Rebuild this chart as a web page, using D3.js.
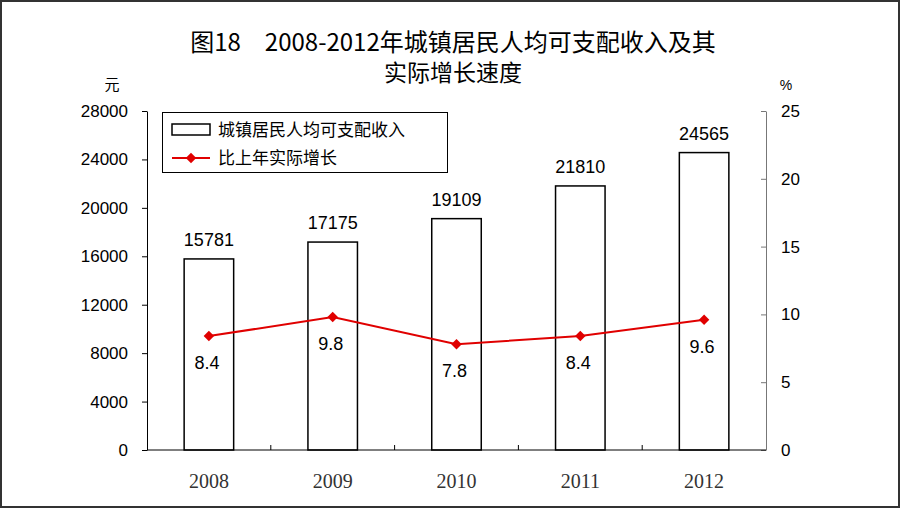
<!DOCTYPE html>
<meta charset="utf-8">
<style>
  body { margin: 0; background: #fff; }
  svg { display: block; }
</style>
<svg width="900" height="508"></svg>
<script src="https://d3js.org/d3.v7.min.js"></script>
<script>

var years = ["2008", "2009", "2010", "2011", "2012"];
var income = [15781, 17175, 19109, 21810, 24565];
var growth = [8.4, 9.8, 7.8, 8.4, 9.6];
var leftTicks = [0, 4000, 8000, 12000, 16000, 20000, 24000, 28000];
var rightTicks = [0, 5, 10, 15, 20, 25];

var svg = d3.select("svg"),
    plotLeft = 147, plotRight = 766, plotTop = 111, plotBottom = 450,
    cjk = "'Noto Sans CJK SC', sans-serif",
    latin = "'Liberation Sans', Arial, sans-serif";

// outer frame
svg.append("rect")
    .attr("x", 1).attr("y", 1)
    .attr("width", 898).attr("height", 506)
    .attr("fill", "#fff")
    .attr("stroke", "#333")
    .attr("stroke-width", 2);

// title
svg.append("text")
    .attr("x", 453).attr("y", 51)
    .attr("text-anchor", "middle")
    .attr("font-family", cjk)
    .attr("font-size", 24)
    .text("图18　2008-2012年城镇居民人均可支配收入及其");
svg.append("text")
    .attr("x", 453).attr("y", 81)
    .attr("text-anchor", "middle")
    .attr("font-family", cjk)
    .attr("font-size", 23)
    .text("实际增长速度");

var x = d3.scaleBand()
    .domain(years)
    .range([plotLeft, plotRight])
    .paddingInner(0.6)
    .paddingOuter(0.3);

var y = d3.scaleLinear().domain([0, 28000]).range([plotBottom, plotTop]);
var y2 = d3.scaleLinear().domain([0, 25]).range([plotBottom, plotTop]);

// left axis
var gl = svg.append("g")
    .attr("transform", "translate(" + plotLeft + ",0)")
    .call(d3.axisLeft(y).tickValues(leftTicks).tickFormat(d3.format("d"))
      .tickSize(5).tickPadding(14).tickSizeOuter(0));
gl.select(".domain").attr("stroke", "#000");
gl.selectAll("text").attr("font-family", latin).attr("font-size", 17).attr("fill", "#000");

// right axis
var gr = svg.append("g")
    .attr("transform", "translate(" + plotRight + ",0)")
    .call(d3.axisRight(y2).tickValues(rightTicks).tickSize(-5).tickPadding(15).tickSizeOuter(0));
gr.select(".domain").attr("stroke", "#777");
gr.selectAll(".tick line").attr("stroke", "#777");
gr.selectAll("text").attr("font-family", latin).attr("font-size", 17).attr("fill", "#000");

// unit labels
svg.append("text")
    .attr("x", 112).attr("y", 90)
    .attr("text-anchor", "middle")
    .attr("font-family", cjk)
    .attr("font-size", 15)
    .text("元");
svg.append("text")
    .attr("x", 786).attr("y", 90)
    .attr("text-anchor", "middle")
    .attr("font-family", latin)
    .attr("font-size", 14)
    .text("%");

// bars
svg.selectAll(".bar")
    .data(years)
  .enter().append("rect")
    .attr("class", "bar")
    .attr("x", function(d) { return x(d); })
    .attr("y", function(d, i) { return y(income[i]); })
    .attr("width", x.bandwidth())
    .attr("height", function(d, i) { return plotBottom - y(income[i]); })
    .attr("fill", "#fff")
    .attr("stroke", "#000")
    .attr("stroke-width", 1.5);

svg.selectAll(".barlabel")
    .data(years)
  .enter().append("text")
    .attr("class", "barlabel")
    .attr("x", function(d) { return x(d) + x.bandwidth() / 2; })
    .attr("y", function(d, i) { return y(income[i]) - 13; })
    .attr("text-anchor", "middle")
    .attr("font-family", latin)
    .attr("font-size", 18)
    .text(function(d, i) { return income[i]; });

// bottom axis
svg.append("line")
    .attr("x1", plotLeft).attr("x2", plotRight)
    .attr("y1", plotBottom).attr("y2", plotBottom)
    .attr("stroke", "#000");
svg.selectAll(".sep")
    .data(years.slice(1))
  .enter().append("line")
    .attr("class", "sep")
    .attr("x1", function(d) { return x(d) - x.step() * x.paddingInner() / 2; })
    .attr("x2", function(d) { return x(d) - x.step() * x.paddingInner() / 2; })
    .attr("y1", plotBottom).attr("y2", plotBottom - 5)
    .attr("stroke", "#000");
svg.selectAll(".year")
    .data(years)
  .enter().append("text")
    .attr("class", "year")
    .attr("x", function(d) { return x(d) + x.bandwidth() / 2; })
    .attr("y", 488)
    .attr("text-anchor", "middle")
    .attr("font-family", "'Liberation Serif', serif")
    .attr("font-size", 20)
    .attr("fill", "#333")
    .text(function(d) { return d; });

// growth line
var line = d3.line()
    .x(function(d, i) { return x(years[i]) + x.bandwidth() / 2; })
    .y(function(d) { return y2(d); });

svg.append("path")
    .datum(growth)
    .attr("fill", "none")
    .attr("stroke", "#e00000")
    .attr("stroke-width", 2)
    .attr("d", line);

var diamond = d3.symbol().type(d3.symbolDiamond2).size(70);
svg.selectAll(".pt")
    .data(growth)
  .enter().append("path")
    .attr("class", "pt")
    .attr("transform", function(d, i) {
      return "translate(" + (x(years[i]) + x.bandwidth() / 2) + "," + y2(d) + ")";
    })
    .attr("d", diamond)
    .attr("fill", "#e00000");

svg.selectAll(".ptlabel")
    .data(growth)
  .enter().append("text")
    .attr("class", "ptlabel")
    .attr("x", function(d, i) { return x(years[i]) + x.bandwidth() / 2 - 2; })
    .attr("y", function(d) { return y2(d) + 33; })
    .attr("text-anchor", "middle")
    .attr("font-family", latin)
    .attr("font-size", 18)
    .text(function(d) { return d.toFixed(1); });

// legend
var lg = svg.append("g").attr("transform", "translate(162,112)");
lg.append("rect")
    .attr("x", 0.5).attr("y", 0.5)
    .attr("width", 285).attr("height", 60)
    .attr("fill", "#fff")
    .attr("stroke", "#000");
lg.append("rect")
    .attr("x", 10).attr("y", 12)
    .attr("width", 38).attr("height", 11)
    .attr("fill", "#fff")
    .attr("stroke", "#000")
    .attr("stroke-width", 1.5);
lg.append("text")
    .attr("x", 56).attr("y", 24)
    .attr("font-family", cjk)
    .attr("font-size", 17)
    .text("城镇居民人均可支配收入");
lg.append("line")
    .attr("x1", 10).attr("x2", 48)
    .attr("y1", 46).attr("y2", 46)
    .attr("stroke", "#e00000")
    .attr("stroke-width", 2);
lg.append("path")
    .attr("transform", "translate(29,46)")
    .attr("d", diamond)
    .attr("fill", "#e00000");
lg.append("text")
    .attr("x", 56).attr("y", 52)
    .attr("font-family", cjk)
    .attr("font-size", 17)
    .text("比上年实际增长");

</script>
